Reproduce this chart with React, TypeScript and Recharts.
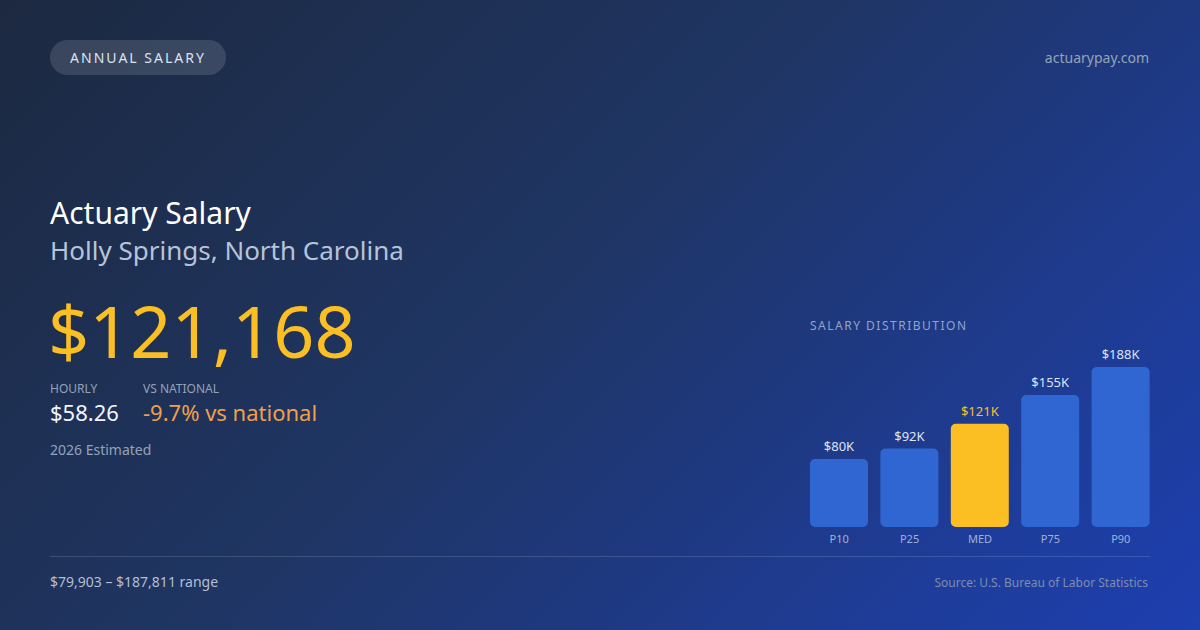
import { BarChart, Bar, XAxis, YAxis, Cell, LabelList } from 'recharts';

const percentiles = ['P10', 'P25', 'MED', 'P75', 'P90'];
const salaries = [79903, 92000, 121168, 155000, 187811];
const valueLabels = ['$80K', '$92K', '$121K', '$155K', '$188K'];

const data = percentiles.map((name, i) => ({
  name,
  value: salaries[i],
  label: valueLabels[i],
}));

const font = '"Noto Sans", "Open Sans", sans-serif';

function BarLabel(props: any) {
  const { x, y, width, index } = props;
  const isMedian = percentiles[index] === 'MED';
  return (
    <text
      x={x + width / 2}
      y={y - 8}
      textAnchor="middle"
      fontSize={13}
      fontFamily={font}
      fill={isMedian ? '#fbbf24' : '#dbe4f3'}
    >
      {valueLabels[index]}
    </text>
  );
}

export default function App() {
  return (
    <div
      style={{
        position: 'fixed',
        left: 0,
        top: 0,
        width: 1200,
        height: 630,
        overflow: 'hidden',
        fontFamily: font,
        background: 'linear-gradient(135deg, #1c2940 0%, #1f3563 45%, #1e3c96 80%, #1d3fb0 100%)',
      }}
    >
      {/* header */}
      <div
        style={{
          position: 'absolute',
          left: 50,
          top: 40,
          width: 176,
          height: 35,
          borderRadius: 18,
          background: 'rgba(255,255,255,0.13)',
          color: '#dbe3f0',
          fontSize: 14,
          letterSpacing: 2,
          display: 'flex',
          alignItems: 'center',
          justifyContent: 'center',
        }}
      >
        ANNUAL SALARY
      </div>
      <div style={{ position: 'absolute', right: 51, top: 48, fontSize: 14, color: '#94a3b8' }}>
        actuarypay.com
      </div>

      {/* title block */}
      <div style={{ position: 'absolute', left: 50, top: 192, fontSize: 30, color: '#ffffff' }}>
        Actuary Salary
      </div>
      <div style={{ position: 'absolute', left: 50, top: 232, fontSize: 26, color: '#b7c3d8' }}>
        Holly Springs, North Carolina
      </div>
      <div
        style={{
          position: 'absolute',
          left: 48,
          top: 280,
          fontSize: 72,
          lineHeight: '100px',
          color: '#fbbf24',
        }}
      >
        $121,168
      </div>

      <div style={{ position: 'absolute', left: 50, top: 380, fontSize: 12, color: '#94a3b8' }}>
        HOURLY
      </div>
      <div style={{ position: 'absolute', left: 143, top: 380, fontSize: 12, color: '#94a3b8' }}>
        VS NATIONAL
      </div>
      <div style={{ position: 'absolute', left: 50, top: 397, fontSize: 22, color: '#f1f5fb' }}>
        $58.26
      </div>
      <div style={{ position: 'absolute', left: 143, top: 397, fontSize: 22, color: '#f0a04b' }}>
        -9.7% vs national
      </div>
      <div style={{ position: 'absolute', left: 50, top: 440, fontSize: 14, color: '#94a3b8' }}>
        2026 Estimated
      </div>

      {/* distribution chart */}
      <div
        style={{
          position: 'absolute',
          left: 810,
          top: 317,
          fontSize: 12,
          letterSpacing: 1.5,
          color: '#93a4c9',
        }}
      >
        SALARY DISTRIBUTION
      </div>
      <div style={{ position: 'absolute', left: 804, top: 341 }}>
        <BarChart
          width={352}
          height={210}
          data={data}
          margin={{ top: 26, right: 0, bottom: 0, left: 0 }}
          barSize={58}
        >
          <XAxis
            dataKey="name"
            axisLine={false}
            tickLine={false}
            height={24}
            interval={0}
            tick={{ fill: '#9fb2d8', fontSize: 11, fontFamily: font }}
          />
          <YAxis hide domain={[0, 187811]} />
          <Bar dataKey="value" radius={5} isAnimationActive={false}>
            {data.map((d) => (
              <Cell key={d.name} fill={d.name === 'MED' ? '#fbbf24' : '#3066d2'} />
            ))}
            <LabelList dataKey="label" content={BarLabel} />
          </Bar>
        </BarChart>
      </div>

      {/* footer */}
      <div
        style={{
          position: 'absolute',
          left: 50,
          top: 556,
          width: 1100,
          height: 1,
          background: 'rgba(255,255,255,0.14)',
        }}
      />
      <div style={{ position: 'absolute', left: 50, top: 572, fontSize: 14, color: '#b3bfd3' }}>
        $79,903 – $187,811 range
      </div>
      <div style={{ position: 'absolute', right: 52, top: 574, fontSize: 12, color: '#7d8db0' }}>
        Source: U.S. Bureau of Labor Statistics
      </div>
    </div>
  );
}
